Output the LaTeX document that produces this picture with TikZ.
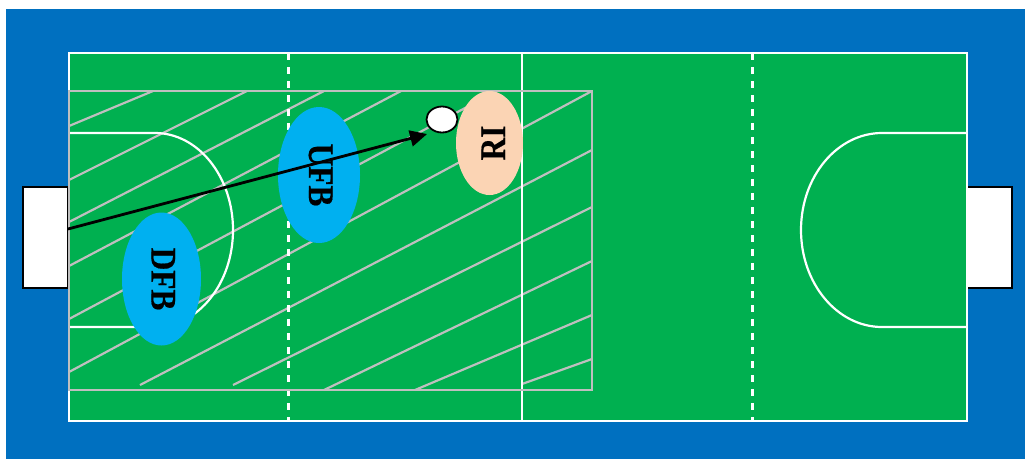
\documentclass[tikz,border=0pt]{standalone}
\usepackage{fontspec}
\setmainfont{Liberation Serif}
\newfontfamily\playerfont[FakeStretch=0.87,BoldFeatures={FakeBold=0.5}]{Liberation Serif}
\usetikzlibrary{arrows.meta,shapes.geometric}
\definecolor{courtblue}{HTML}{0070C0}
\definecolor{fieldgreen}{HTML}{00B050}
\definecolor{playerblue}{HTML}{00B0F0}
\definecolor{playerpeach}{HTML}{FBD4B4}
\definecolor{zonegray}{HTML}{BFBFBF}
\tikzset{
    fieldline/.style={draw=white, line width=2.2pt},
    halfline/.style={fieldline, line width=2.6pt, dash pattern=on 7pt off 7pt},
    zoneline/.style={draw=zonegray, line width=2.2pt},
    goalbox/.style={draw=black, line width=2.2pt, fill=white},
    player/.style={ellipse, inner sep=0pt, rotate=-90, text=black, text depth=0pt, text height=20pt,
        font=\fontsize{36}{36}\playerfont\bfseries},
}
\begin{document}
\begin{tikzpicture}[x=1pt, y=-1pt]
    \useasboundingbox (0,0) rectangle (1025,459);
    % court and goals
    \fill[courtblue] (6,9) rectangle (1025,459);
    \draw[goalbox] (23,187) rectangle (68,288);
    \draw[goalbox] (967,187) rectangle (1012,288);
    \fill[fieldgreen] (69,53) rectangle (967,421);
    % hatching of the zone
    \foreach \xa/\ya/\xb/\yb in {69/126/153/91, 69/180/247/91, 69/222/324/91,
        69/266/401/91, 69/319/497/91, 69/372/592/91, 140/385/592/150,
        233/385/592/207, 324/390/592/261, 415/390/592/315, 522/384/592/359}
        \draw[zoneline] (\xa,\ya) -- (\xb,\yb);
    % field markings
    \draw[fieldline] (69,53) rectangle (967,421);
    \draw[fieldline] (522,53) -- (522,421);
    \draw[halfline] (288.3,53) -- (288.3,421);
    \draw[halfline] (752.3,53) -- (752.3,421);
    \draw[fieldline] (68,133) -- (155,133)
        .. controls (198,133) and (233,176.4) .. (233,230)
        .. controls (233,283.6) and (198,327) .. (155,327) -- (68,327);
    \draw[fieldline] (967,133) -- (882,133)
        .. controls (837.3,133) and (801,176.4) .. (801,230)
        .. controls (801,283.6) and (837.3,327) .. (882,327) -- (967,327);
    \draw[zoneline] (69,91) rectangle (592,390);
    % players and ball
    \node[player, fill=playerblue, minimum width=133pt, minimum height=79pt] (dfb) at (161.5,279) {DFB};
    \node[player, fill=playerblue, minimum width=136pt, minimum height=82pt] (ufb) at (319,175) {UFB};
    \node[player, rotate=180, text height=31pt, fill=playerpeach, minimum width=104pt, minimum height=67pt] (ri) at (489.5,143) {RI\hspace{13pt}};
    \node[ellipse, draw=black, line width=1.8pt, fill=white, minimum width=31pt, minimum height=26pt, inner sep=0pt] (ball) at (442,119.5) {};
    % the shot
    \coordinate (shot) at (68,229);
    \draw[-{Triangle[length=17pt,width=16pt]}, line width=2.8pt, shorten >=8pt] (shot) -- (ball.240);
\end{tikzpicture}
\end{document}
